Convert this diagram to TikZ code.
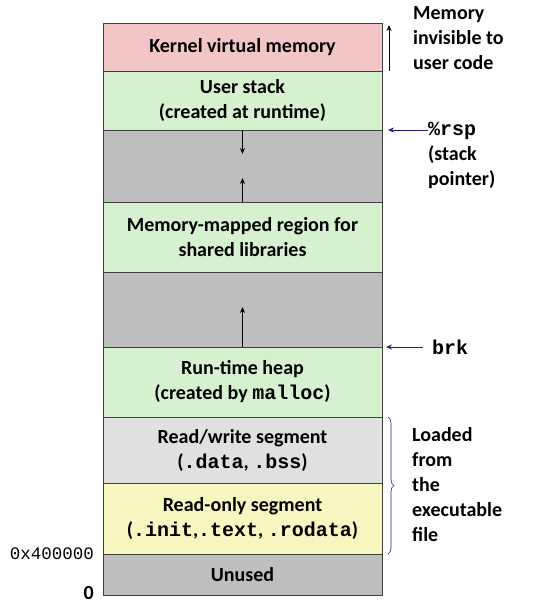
\documentclass[tikz,border=0pt]{standalone}
\usepackage{fontspec}
\setmainfont{Carlito}
\setmonofont{Liberation Mono}
\usetikzlibrary{arrows.meta, positioning, decorations.pathreplacing}
\definecolor{KernelPink}{HTML}{F2C6C6}
\definecolor{StackGreen}{HTML}{D6F1D0}
\definecolor{GapGray}{HTML}{BEBEBE}
\definecolor{DataGray}{HTML}{E0E0E0}
\definecolor{CodeYellow}{HTML}{F7F5C0}
\definecolor{PtrNavy}{HTML}{1F1F78}

\begin{document}
\begin{tikzpicture}[x=1pt, y=-1pt, >=Stealth,
    region/.style={draw=black!75, line width=0.8pt, minimum width=279pt,
      inner sep=0pt, outer sep=0pt, align=center,
      font=\bfseries\fontsize{20}{25}\selectfont},
    side/.style={inner sep=0pt, align=left, font=\bfseries\fontsize{20}{25}\selectfont},
    growarrow/.style={->, line width=0.8pt, >={Stealth[length=6pt, width=5pt]}},
    ptr/.style={->, PtrNavy, line width=0.8pt, >={Stealth[length=6pt, width=5pt]}}]
  \useasboundingbox[fill=white] (0,0) rectangle (547,609);
  % address space, top to bottom
  \node[region, fill=KernelPink, minimum height=48pt, anchor=north] (kernel) at (242.5,23) {Kernel virtual memory};
  \node[region, fill=StackGreen, minimum height=59pt, below=0pt of kernel] (stack) {User stack\\(created at runtime)};
  \node[region, fill=GapGray, minimum height=72pt, below=0pt of stack] (gapA) {};
  \node[region, fill=StackGreen, minimum height=70pt, below=0pt of gapA] (mmap) {Memory-mapped region for\\shared libraries};
  \node[region, fill=GapGray, minimum height=75pt, below=0pt of mmap] (gapB) {};
  \node[region, fill=StackGreen, minimum height=70pt, below=0pt of gapB] (heap) {Run-time heap\\(created by \texttt{malloc})};
  \node[region, fill=DataGray, minimum height=66pt, below=0pt of heap] (rwseg) {Read/write segment\\(\texttt{.data}, \texttt{.bss})};
  \node[region, fill=CodeYellow, minimum height=71pt, below=0pt of rwseg] (roseg) {Read-only segment\\(\texttt{.init},\texttt{.text}, \texttt{.rodata})};
  \node[region, fill=GapGray, minimum height=41pt, below=0pt of roseg] (unused) {Unused};
  % growth arrows
  \draw[growarrow] (gapA.north) -- ([yshift=-24pt]gapA.north);
  \draw[growarrow] (gapA.south) -- ([yshift=24pt]gapA.south);
  \draw[growarrow] (gapB.south) -- ([yshift=40pt]gapB.south);
  % kernel note
  \draw[growarrow] ([xshift=7pt]kernel.south east) -- ([xshift=7pt,yshift=-2pt]kernel.north east);
  \node[side, anchor=west] (kernelnote) at (413,38) {Memory\\invisible to\\user code};
  % pointers
  \node[side, anchor=west] (rsplabel) at (428,155) {\texttt{\%rsp}\\(stack\\pointer)};
  \draw[ptr] (rsplabel.west |- gapA.north) -- ([xshift=6pt]gapA.north east);
  \node[side, anchor=west] (brklabel) at (432,347) {\texttt{brk}};
  \draw[ptr] ([xshift=-9pt]brklabel.west) -- ([xshift=4pt]gapB.south east);
  % executable file
  \draw[PtrNavy, line width=0.6pt, decorate, decoration={brace, amplitude=6pt}]
    ([xshift=6pt]rwseg.north east) -- ([xshift=6pt]roseg.south east);
  \node[side, anchor=west] (loadnote) at (412,485) {Loaded\\from\\the\\executable\\file};
  % addresses
  \node[anchor=east, inner sep=0pt, font=\ttfamily\fontsize{17.5}{20}\selectfont] (addrlow) at ([xshift=-9pt]unused.north west) {0x400000};
  \node[anchor=east, inner sep=0pt, font=\bfseries\fontsize{20}{20}\selectfont] (addrzero) at ([xshift=-9pt,yshift=2pt]unused.south west) {0};
\end{tikzpicture}
\end{document}
